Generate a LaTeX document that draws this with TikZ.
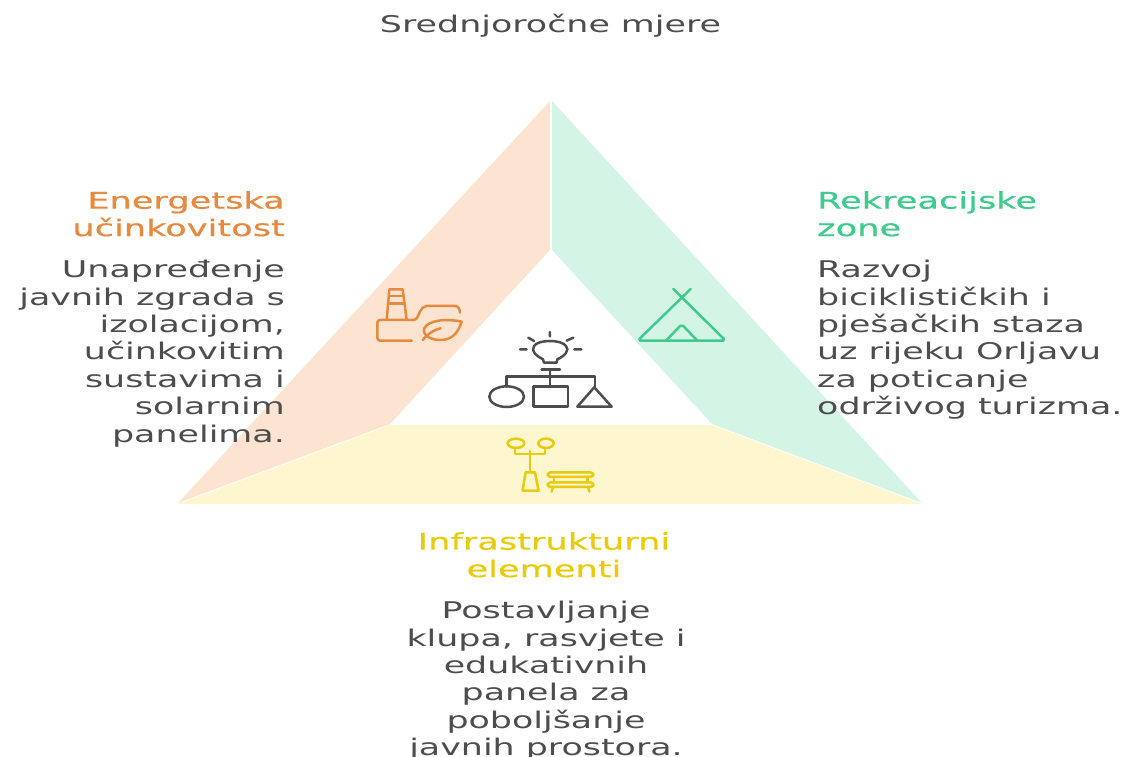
\documentclass[tikz,border=0pt]{standalone}
\usepackage{fontspec}
\setmainfont[FakeStretch=1.515]{DejaVu Sans}
\newfontfamily\headfont[FakeStretch=1.53,FakeBold=0.5]{DejaVu Sans}
\definecolor{txt}{HTML}{4D4D4D}
\definecolor{orgfill}{HTML}{FCE4D1}
\definecolor{grnfill}{HTML}{D4F5E6}
\definecolor{yelfill}{HTML}{FDF6CE}
\definecolor{orgc}{HTML}{E68A3F}
\definecolor{grnc}{HTML}{3FCB8C}
\definecolor{yelc}{HTML}{E8CC0C}
\tikzset{
 body/.style={text=txt,font=\fontsize{23}{27.4}\selectfont,inner sep=0pt},
 head/.style={font=\headfont\fontsize{23}{27.4}\selectfont,inner sep=0pt},
 icon/.style={line width=2.5pt,line join=round,line cap=round,fill=none},
 zoomed/.style={x=0.3333pt,y=-0.3333pt}
}
\begin{document}
\begin{tikzpicture}[x=1pt,y=-1pt]
\useasboundingbox (0,0) rectangle (1138,757);
\clip (0,0) rectangle (1138,757);
\fill[orgfill] (550,101) -- (550,250) -- (390,424) -- (178,503) -- cycle;
\fill[grnfill] (552,101) -- (552,250) -- (712,424) -- (922,503) -- cycle;
\fill[yelfill] (178,504) -- (390,425) -- (712,425) -- (922,504) -- cycle;

\node[body,anchor=center] (title) at (550.5,26) {Srednjoročne mjere};

\node[head,text=orgc,anchor=north east,align=right] (h1) at (285,191) {Energetska\\učinkovitost};
\node[body,anchor=north east,align=right] (b1) at (285,260) {Unapređenje\\javnih zgrada s\\izolacijom,\\učinkovitim\\sustavima i\\solarnim\\panelima.};
\node[head,text=grnc,anchor=north west,align=left] (h2) at (817,191) {Rekreacijske\\zone};
\node[body,anchor=north west,align=left] (b2) at (817,260) {Razvoj\\biciklističkih i\\pješačkih staza\\uz rijeku Orljavu\\za poticanje\\održivog turizma.};
\node[head,text=yelc,anchor=north,align=center] (h3) at (544,532) {Infrastrukturni\\elementi};
\node[body,anchor=north,align=center] (b3) at (546,601) {Postavljanje\\klupa, rasvjete i\\edukativnih\\panela za\\poboljšanje\\javnih prostora.};

% factory and leaf
\begin{scope}[shift={(360,270)},zoomed,icon,draw=orgc]
\draw (155,212) -- (60,212) to[out=180,in=-90] (52,204) -- (52,158) to[out=90,in=180] (60,150) -- (160,150) to[out=0,in=-120] (180,125) to[out=60,in=180] (200,108) -- (285,108) to[out=0,in=90] (300,128);
\draw (80,150) -- (88,58) -- (128,58) -- (140,150);
\draw (86,78) -- (131,78) (84,100) -- (134,100);
\draw (305,155) .. controls (260,145) and (205,150) .. (193,175) .. controls (185,195) and (215,212) .. (245,210) .. controls (280,208) and (295,185) .. (305,155) -- cycle;
\draw (188,210) .. controls (205,190) and (225,178) .. (242,175);
\end{scope}

% bulb and shapes
\begin{scope}[shift={(360,270)},zoomed,icon,draw=txt]
\draw (480,238) -- (500,238) (505,203) -- (522,213) (570,186) -- (570,199) (620,212) -- (640,203) (643,238) -- (664,238);
\draw (552,278) -- (590,278) -- (592,268) .. controls (615,258) and (630,240) .. (618,228) .. controls (605,208) and (535,208) .. (522,228) .. controls (512,245) and (530,258) .. (549,268) -- cycle;
\draw (545,298) -- (600,298);
\draw (570,298) -- (570,350);
\draw (440,350) -- (440,320) -- (705,320) -- (705,352);
\draw (440,380) ellipse [x radius=52,y radius=31];
\draw (520,350) rectangle (624,410);
\draw (703,352) -- (652,410) -- (755,410) -- cycle;
\end{scope}

% lamp and bench
\begin{scope}[shift={(360,270)},zoomed,icon,draw=yelc]
\draw (468,520) ellipse [x radius=25,y radius=14];
\draw (558,520) ellipse [x radius=23,y radius=14];
\draw (465,534) -- (465,552) -- (555,552) -- (555,534);
\draw (510,543) -- (510,606);
\draw (497,607) -- (525,607) -- (536,662) -- (488,662) -- cycle;
\draw[rounded corners=3pt] (563,607) rectangle (700,621);
\draw[rounded corners=3pt] (563,637) rectangle (700,651);
\draw (582,621) -- (582,637) (682,621) -- (682,637);
\draw (579,651) -- (575,665) (684,651) -- (688,665);
\end{scope}

% tent
\begin{scope}[shift={(620,270)},zoomed,icon,draw=grnc]
\draw (212,57) -- (58,207) -- (60,212) -- (310,212) -- (312,207) -- (160,57);
\draw (138,212) -- (180,168) -- (190,168) -- (232,212);
\end{scope}
\end{tikzpicture}
\end{document}
